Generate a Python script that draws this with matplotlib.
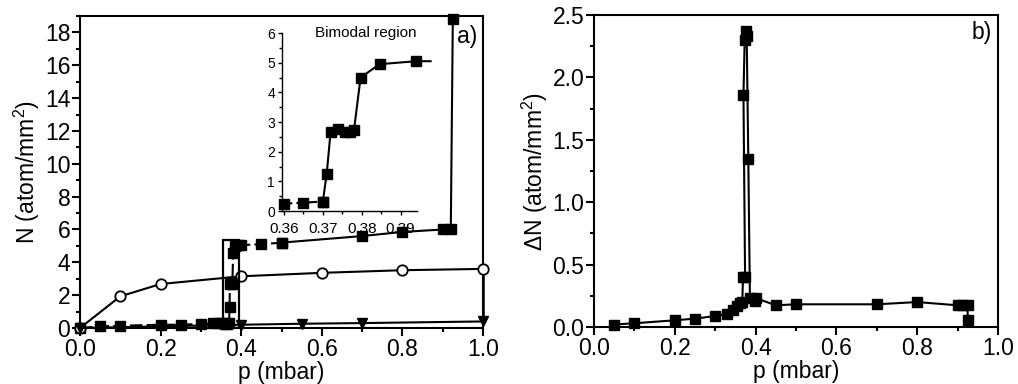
"""
Atom number vs pressure: (a) N(p) with bimodal-region inset, (b) Delta N(p).
"""
import numpy as np
import matplotlib
matplotlib.use("Agg")
import matplotlib.pyplot as plt
from matplotlib.ticker import MultipleLocator
from matplotlib.patches import Rectangle

plt.rcParams['font.family'] = ['Liberation Sans', 'DejaVu Sans']
plt.rcParams['mathtext.fontset'] = 'custom'
plt.rcParams['mathtext.rm'] = 'Liberation Sans'
plt.rcParams['mathtext.it'] = 'Liberation Sans:italic'

# panel a: filled squares (dashed at low p, solid beyond)
pa_sq = [0.0, 0.05, 0.10, 0.20, 0.25, 0.30, 0.33, 0.345, 0.355, 0.36, 0.365, 0.37,
         0.371, 0.372, 0.374, 0.376, 0.378, 0.38, 0.385, 0.393, 0.40, 0.45, 0.50,
         0.70, 0.80, 0.90, 0.92, 0.925]
Na_sq = [0.0, 0.1, 0.14, 0.2, 0.2, 0.25, 0.28, 0.3, 0.3, 0.25, 0.27, 0.33,
         1.3, 2.7, 2.8, 2.7, 2.75, 4.55, 5.0, 5.05, 5.05, 5.1, 5.2,
         5.6, 5.85, 6.0, 6.0, 18.8]
# panel a: open circles
pa_ci = [0.0, 0.10, 0.20, 0.40, 0.60, 0.80, 1.00]
Na_ci = [0.0, 1.93, 2.68, 3.15, 3.36, 3.52, 3.6]
# panel a: down triangles
pa_tr = [0.0, 0.40, 0.55, 0.70, 1.00]
Na_tr = [0.0, 0.2, 0.26, 0.3, 0.4]

# inset: bimodal region
pi = [0.36, 0.365, 0.37, 0.371, 0.372, 0.374, 0.3757, 0.377, 0.378, 0.3797, 0.3846, 0.394]
Ni = [0.25, 0.28, 0.32, 1.26, 2.67, 2.78, 2.66, 2.67, 2.72, 4.5, 4.95, 5.05]

# panel b: Delta N
pb = [0.05, 0.10, 0.20, 0.25, 0.30, 0.33, 0.345, 0.355, 0.361, 0.367, 0.369, 0.374,
      0.370, 0.373, 0.376, 0.378, 0.382, 0.386, 0.398, 0.402, 0.45, 0.50, 0.70,
      0.80, 0.90, 0.91, 0.925, 0.925]
dN = [0.02, 0.03, 0.054, 0.067, 0.088, 0.107, 0.134, 0.166, 0.19, 0.2, 0.4, 0.4,
      1.86, 2.3, 2.37, 2.33, 1.345, 0.23, 0.21, 0.23, 0.174, 0.182, 0.182,
      0.2, 0.174, 0.18, 0.174, 0.06]

fig = plt.figure(figsize=(10.18, 3.84), dpi=100)
axa = fig.add_axes([0.0786, 0.1458, 0.3959, 0.8125])
axb = fig.add_axes([0.5835, 0.1484, 0.3968, 0.8125])
axi = fig.add_axes([0.277, 0.4505, 0.133, 0.4635])

fs = 16.5
lw = 1.5


def style(ax, lw=1.5, size=fs, major=6, minor=3, pad=1):
    for s in ax.spines.values():
        s.set_linewidth(lw)
    ax.tick_params(which='major', direction='out', length=major, width=lw,
                   labelsize=size, pad=pad)
    ax.tick_params(which='minor', direction='out', length=minor, width=lw)


# --- panel a ---
cut = pa_sq.index(0.50)
axa.plot(pa_sq[:cut + 1], Na_sq[:cut + 1], color='k', ls=(0, (6, 2)), lw=lw,
         marker='s', ms=7.5, clip_on=False, zorder=3)
axa.plot(pa_sq[cut:], Na_sq[cut:], color='k', ls='-', lw=lw,
         marker='s', ms=7.5, clip_on=False, zorder=3)
axa.plot(pa_ci, Na_ci, color='k', ls='-', lw=lw, marker='o', ms=7.5,
         mfc='white', mew=1.3, clip_on=False, zorder=3)
axa.plot(pa_tr, Na_tr, color='k', ls='-', lw=lw, marker='v', ms=7.5,
         clip_on=False, zorder=3)
axa.plot([1.0, 1.0], [Na_tr[-1], Na_ci[-1]], color='k', lw=1.8, clip_on=False)
axa.add_patch(Rectangle((0.355, 0.0), 0.04, 5.35, fill=False, ec='k', lw=1.6, zorder=4))
axa.set_xlim(0, 1.0)
axa.set_ylim(0, 19.0)
axa.xaxis.set_major_locator(MultipleLocator(0.2))
axa.xaxis.set_minor_locator(MultipleLocator(0.1))
axa.yaxis.set_major_locator(MultipleLocator(2))
axa.yaxis.set_minor_locator(MultipleLocator(1))
axa.set_xlabel('p (mbar)', fontsize=fs, labelpad=0)
axa.set_ylabel('N (atom/mm$^2$)', fontsize=fs, labelpad=2)
axa.text(0.985, 0.97, 'a)', transform=axa.transAxes, ha='right', va='top', fontsize=fs)
style(axa)

# --- inset ---
axi.plot(pi[:3], Ni[:3], color='k', ls=(0, (4, 2)), lw=lw, marker='s', ms=7.5,
         clip_on=False, zorder=3)
axi.plot(pi[2:] + [0.3977], Ni[2:] + [5.05], color='k', ls='-', lw=lw, marker='s',
         ms=7.5, markevery=list(range(len(pi) - 2)), clip_on=False, zorder=3)
axi.set_xlim(0.3595, 0.3943)
axi.set_ylim(0, 6.0)
axi.spines['top'].set_visible(False)
axi.spines['right'].set_visible(False)
axi.patch.set_alpha(0)
axi.xaxis.set_major_locator(MultipleLocator(0.01))
axi.xaxis.set_minor_locator(MultipleLocator(0.005))
axi.yaxis.set_major_locator(MultipleLocator(1))
axi.yaxis.set_minor_locator(MultipleLocator(0.5))
axi.set_xticks([0.36, 0.37, 0.38, 0.39])
axi.set_xticklabels(['0.36', '0.37', '0.38', '0.39'])
style(axi, lw=1.0, size=11, major=3, minor=2)
axi.tick_params(axis='x', pad=5)
axi.tick_params(axis='y', labelsize=10, pad=2)
axi.text(0.62, 1.04, 'Bimodal region', transform=axi.transAxes, ha='center',
         va='top', fontsize=11)

# --- panel b ---
axb.plot(pb, dN, color='k', ls='-', lw=lw, marker='s', ms=7, clip_on=False, zorder=3)
axb.set_xlim(0, 1.0)
axb.set_ylim(0, 2.5)
axb.xaxis.set_major_locator(MultipleLocator(0.2))
axb.xaxis.set_minor_locator(MultipleLocator(0.1))
axb.yaxis.set_major_locator(MultipleLocator(0.5))
axb.yaxis.set_minor_locator(MultipleLocator(0.25))
axb.set_xlabel('p (mbar)', fontsize=fs, labelpad=0)
axb.set_ylabel(r'$\Delta$N (atom/mm$^2$)', fontsize=fs, labelpad=2)
axb.text(0.985, 0.98, 'b)', transform=axb.transAxes, ha='right', va='top', fontsize=fs)
style(axb)

fig.savefig('out.png', dpi=100)
